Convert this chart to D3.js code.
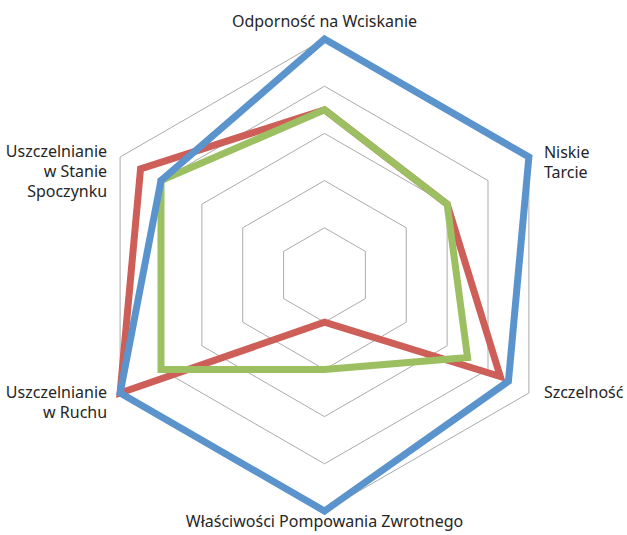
<!DOCTYPE html>
<html>
<head>
<meta charset="utf-8">
<script src="https://cdn.jsdelivr.net/npm/d3@7"></script>
<style>
    html, body { margin: 0; padding: 0; background: #fff; }
    svg text { font-family: "Noto Sans", sans-serif; font-size: 16px; fill: #262626; }
</style>
</head>
<body>
<div class="radar-chart"></div>
<script>
// axis labels, clockwise from the top
const categories = [
    ['Odporność na Wciskanie'],
    ['Niskie', 'Tarcie'],
    ['Szczelność'],
    ['Właściwości Pompowania Zwrotnego'],
    ['Uszczelnianie', 'w Ruchu'],
    ['Uszczelnianie', 'w Stanie', 'Spoczynku']
];
const gridLevels = [1, 2, 3, 4, 5];
// series, drawn in this order
const seriesRed = [3.5, 3, 4.3, 1, 5, 4.5];
const seriesGreen = [3.5, 3, 3.5, 2, 4, 4];
const seriesBlue = [5, 5, 4.5, 5, 5, 4];

function radarChart() {
    const width = 627,
        height = 535,
        center = { x: 324.5, y: 275 },
        radius = 236,
        n = categories.length,
        series = [
            { values: seriesRed, color: '#CD5E58' },
            { values: seriesGreen, color: '#9CC061' },
            { values: seriesBlue, color: '#5B94CC' }
        ],
        // label placement per axis: anchor, dx, dy (block centre) from the axis tip
        labelPos = [
            { anchor: 'middle', dx: 0, dy: -17 },
            { anchor: 'start', dx: 15, dy: 6 },
            { anchor: 'start', dx: 15, dy: 0 },
            { anchor: 'middle', dx: 0, dy: 11 },
            { anchor: 'end', dx: -13, dy: 10 },
            { anchor: 'end', dx: -13, dy: 15 }
        ],
        lineHeight = 20;

    const r = d3.scaleLinear().domain([0, 5]).range([0, radius]);
    const angle = d3.scaleLinear().domain([0, n]).range([0, 2 * Math.PI]);

    const line = d3.lineRadial()
        .angle((d, i) => angle(i))
        .radius(d => r(d))
        .curve(d3.curveLinearClosed);

    return function chart(selector) {
        const svg = d3.select(selector)
            .append('svg')
            .attr('width', width)
            .attr('height', height);

        const g = svg.append('g')
            .attr('transform', `translate(${center.x},${center.y})`);

        // hexagon grid, no spokes
        g.selectAll('.grid')
            .data(gridLevels)
            .enter()
            .append('path')
            .attr('class', 'grid')
            .attr('d', lvl => line(d3.range(n).map(() => lvl)))
            .attr('fill', 'none')
            .attr('stroke', '#ABABAB')
            .attr('stroke-width', 1);

        g.selectAll('.series')
            .data(series)
            .enter()
            .append('path')
            .attr('class', 'series')
            .attr('d', d => line(d.values))
            .attr('fill', 'none')
            .attr('stroke', d => d.color)
            .attr('stroke-width', 7)
            .attr('stroke-linejoin', 'miter');

        const labels = g.selectAll('.label')
            .data(categories)
            .enter()
            .append('text')
            .attr('class', 'label')
            .attr('text-anchor', (d, i) => labelPos[i].anchor)
            .attr('x', (d, i) => r(5) * Math.sin(angle(i)) + labelPos[i].dx)
            .attr('y', (d, i) => {
                const tipY = -r(5) * Math.cos(angle(i));
                const offset = (d.length - 1) * lineHeight / 2;
                return tipY + labelPos[i].dy - offset + 5;
            });

        labels.selectAll('tspan')
            .data(d => d)
            .enter()
            .append('tspan')
            .attr('x', function () { return d3.select(this.parentNode).attr('x'); })
            .attr('dy', (d, i) => i === 0 ? 0 : lineHeight)
            .text(d => d);
    };
}

const chart = radarChart();
chart('.radar-chart');
</script>
</body>
</html>
